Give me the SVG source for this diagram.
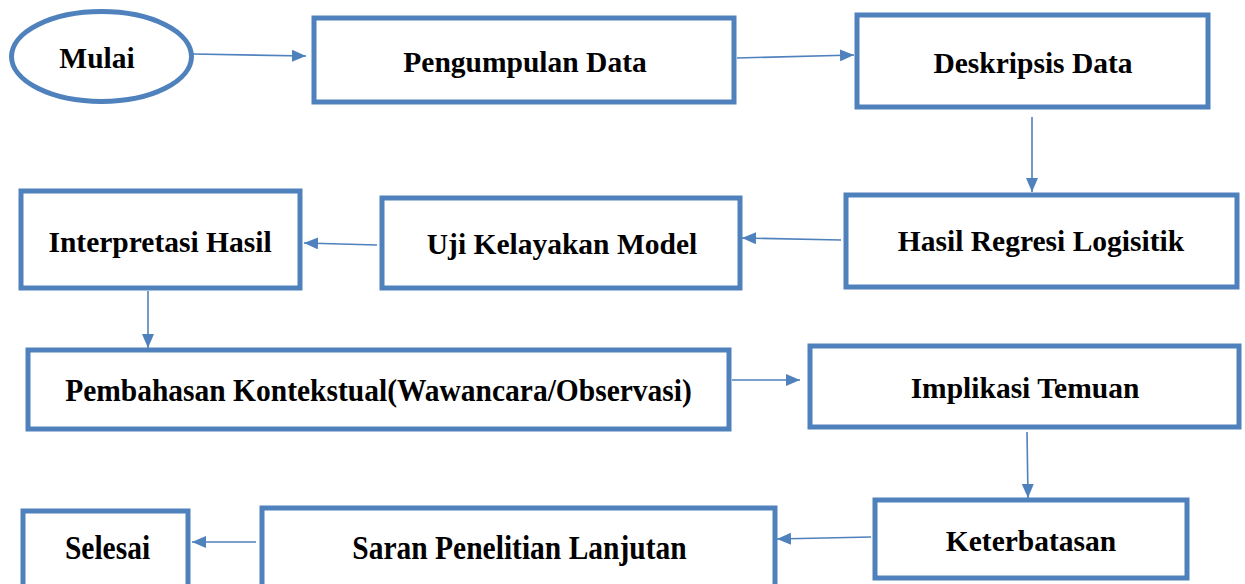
<svg xmlns="http://www.w3.org/2000/svg" width="1245" height="584" viewBox="0 0 1245 584">
  <style>
    .box { fill: #ffffff; stroke: #4F81BD; stroke-width: 5; }
    .link { fill: none; stroke: #4F81BD; stroke-width: 1.6; }
    .lbl { font-family: "Liberation Serif", "Times New Roman", serif; font-weight: bold; font-size: 29.5px; fill: #000000; text-anchor: middle; }
  </style>
  <defs>
    <marker id="arrow" viewBox="0 0 14 12" refX="14" refY="6" markerWidth="14" markerHeight="12" markerUnits="userSpaceOnUse" orient="auto">
      <path d="M0,0 L14,6 L0,12 z" fill="#4F81BD"/>
    </marker>
  </defs>
  <rect width="1245" height="584" fill="#ffffff"/>

  <g id="connectors">
    <line class="link" x1="193" y1="54" x2="306" y2="56" marker-end="url(#arrow)"/>
    <line class="link" x1="737" y1="58" x2="854" y2="55" marker-end="url(#arrow)"/>
    <line class="link" x1="1032" y1="117" x2="1032" y2="192" marker-end="url(#arrow)"/>
    <line class="link" x1="841" y1="240" x2="742" y2="238" marker-end="url(#arrow)"/>
    <line class="link" x1="377" y1="245" x2="304" y2="243" marker-end="url(#arrow)"/>
    <line class="link" x1="148" y1="291" x2="148" y2="348" marker-end="url(#arrow)"/>
    <line class="link" x1="732" y1="380" x2="800" y2="380" marker-end="url(#arrow)"/>
    <line class="link" x1="1027" y1="432" x2="1028" y2="498" marker-end="url(#arrow)"/>
    <line class="link" x1="871" y1="537" x2="777" y2="539" marker-end="url(#arrow)"/>
    <line class="link" x1="256" y1="542" x2="192" y2="542" marker-end="url(#arrow)"/>
  </g>

  <g id="mulai">
    <ellipse class="box" cx="101.5" cy="56.5" rx="90" ry="45" stroke-width="4"/>
    <text class="lbl" x="97" y="68">Mulai</text>
  </g>
  <g id="pengumpulan-data">
    <rect class="box" x="314" y="18" width="420" height="84"/>
    <text class="lbl" x="525" y="72">Pengumpulan Data</text>
  </g>
  <g id="deskripsis-data">
    <rect class="box" x="857" y="15" width="351" height="92"/>
    <text class="lbl" x="1033" y="73">Deskripsis Data</text>
  </g>
  <g id="hasil-regresi">
    <rect class="box" x="846" y="195" width="391" height="92"/>
    <text class="lbl" x="1041" y="251">Hasil Regresi Logisitik</text>
  </g>
  <g id="uji-kelayakan">
    <rect class="box" x="382" y="198" width="358" height="90"/>
    <text class="lbl" x="562" y="254">Uji Kelayakan Model</text>
  </g>
  <g id="interpretasi-hasil">
    <rect class="box" x="21" y="191" width="279" height="97"/>
    <text class="lbl" x="160" y="252">Interpretasi Hasil</text>
  </g>
  <g id="pembahasan">
    <rect class="box" x="28" y="350" width="701" height="79"/>
    <text class="lbl" transform="translate(378.5,401) scale(1,1.1)">Pembahasan Kontekstual(Wawancara/Observasi)</text>
  </g>
  <g id="implikasi-temuan">
    <rect class="box" x="810" y="346" width="429" height="81"/>
    <text class="lbl" x="1025" y="398">Implikasi Temuan</text>
  </g>
  <g id="keterbatasan">
    <rect class="box" x="875" y="500" width="312" height="78"/>
    <text class="lbl" x="1031" y="551">Keterbatasan</text>
  </g>
  <g id="saran">
    <rect class="box" x="262" y="508" width="513" height="90"/>
    <text class="lbl" transform="translate(519.5,559) scale(1,1.12)">Saran Penelitian Lanjutan</text>
  </g>
  <g id="selesai">
    <rect class="box" x="23" y="511" width="165" height="90"/>
    <text class="lbl" transform="translate(107.5,559) scale(1,1.12)">Selesai</text>
  </g>
</svg>
